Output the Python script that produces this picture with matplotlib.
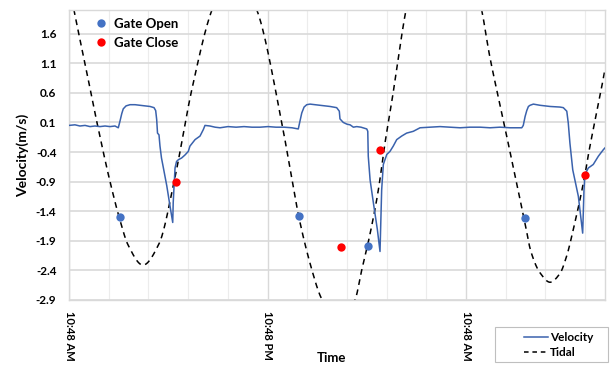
import numpy as np
import matplotlib
matplotlib.use("Agg")
import matplotlib.pyplot as plt
from matplotlib.lines import Line2D
from matplotlib.patches import Rectangle
from matplotlib.ticker import FixedLocator, MultipleLocator

plt.rcParams['font.family'] = ['Lato', 'DejaVu Sans']
plt.rcParams['font.weight'] = 'bold'

# ---- data (hours since 10:48 AM) ----
vel_time = [0.00, 0.36, 0.66, 0.97, 1.27, 1.57, 1.87, 2.18, 2.48, 2.78, 2.98, 3.08, 3.19, 3.28,
            3.45, 3.69, 3.99, 4.29, 4.59, 4.90, 5.14, 5.24, 5.30, 5.35, 5.44, 5.50, 5.59, 5.70,
            5.91, 6.11, 6.27, 6.30, 6.35, 6.41, 6.50, 6.61, 6.81, 7.01, 7.21, 7.31, 7.62, 7.92,
            8.12, 8.22, 8.52, 8.83, 9.13, 9.61, 10.10, 10.58, 11.06, 11.55, 12.03, 12.51, 13.00,
            13.48, 13.86, 13.96, 14.07, 14.21, 14.37, 14.57, 15.17, 15.78, 16.18, 16.34, 16.38,
            16.58, 16.81, 16.99, 17.19, 17.39, 17.65, 18.00, 18.06, 18.09, 18.20, 18.40, 18.64,
            18.80, 18.90, 19.00, 19.21, 19.40, 19.60, 19.81, 20.11, 20.41, 20.81, 21.22, 21.82,
            22.43, 23.03, 23.64, 24.24, 24.85, 25.45, 26.05, 26.66, 27.37, 27.46, 27.57, 27.67,
            27.77, 27.87, 28.07, 28.47, 29.08, 29.68, 29.88, 30.09, 30.18, 30.28, 30.45, 30.79,
            31.05, 31.13, 31.19, 31.39, 31.69, 32.00, 32.30, 32.40]
vel_value = [0.05, 0.06, 0.04, 0.05, 0.03, 0.04, 0.03, 0.04, 0.03, 0.04, 0.01, 0.12, 0.25, 0.33,
             0.38, 0.40, 0.40, 0.39, 0.38, 0.37, 0.35, 0.30, 0.15, -0.08, -0.11, -0.30, -0.50, -0.66,
             -0.97, -1.32, -1.59, -1.25, -0.98, -0.67, -0.56, -0.53, -0.50, -0.45, -0.39, -0.30, -0.19, -0.13,
             -0.02, 0.05, 0.04, 0.02, 0.01, 0.03, 0.02, 0.03, 0.02, 0.02, 0.03, 0.02, 0.02,
             0.01, -0.01, 0.12, 0.26, 0.36, 0.40, 0.41, 0.39, 0.37, 0.35, 0.29, 0.16,
             0.10, 0.07, 0.06, 0.02, 0.03, 0.02, -0.01, -0.05, -0.47, -0.87, -1.26, -1.71,
             -2.08, -1.04, -0.61, -0.44, -0.39, -0.30, -0.19, -0.13, -0.08, -0.05, 0.01, 0.02,
             0.03, 0.02, 0.01, 0.02, 0.02, 0.01, 0.02, 0.01, 0.01, 0.05, 0.20, 0.30,
             0.37, 0.39, 0.41, 0.39, 0.37, 0.36, 0.35, 0.29, 0.09, -0.25, -0.70, -1.15,
             -1.77, -1.04, -0.78, -0.67, -0.61, -0.47, -0.36, -0.33]

tide_time = [0.0, 0.30, 1.0, 1.69, 2.48, 3.08, 3.57, 4.47, 5.44, 6.41, 7.42, 8.64, 10.0, 11.36,
             12.86, 13.36, 13.88, 14.67, 15.22, 16.26, 17.29, 17.69, 18.20, 18.70, 19.10, 19.51,
             20.37, 21.5, 22.67, 23.8, 24.95, 25.41, 26.05, 26.36, 26.66, 27.57, 27.91, 28.47,
             29.08, 29.68, 30.09, 30.49, 31.19, 31.39, 32.10, 32.40]
tide_level = [2.45, 2.0, 1.05, 0.1, -0.9, -1.55, -1.97, -2.31, -1.95, -0.82, 0.65, 2.0, 2.75, 2.0,
              0.1, -0.68, -1.48, -2.38, -2.85, -3.3, -2.9, -2.4, -1.78, -1.04, -0.25, 0.45,
              2.0, 3.4, 3.9, 3.4, 2.0, 1.25, 0.40, 0.0, -0.40, -1.61, -2.07, -2.44,
              -2.6, -2.45, -2.15, -1.7, -0.78, -0.45, 0.55, 1.0]

open_time = [3.08, 13.88, 18.07, 27.57]
open_value = [-1.50, -1.48, -1.99, -1.51]
close_time = [6.45, 16.42, 18.80, 31.19]
close_value = [-0.91, -2.01, -0.37, -0.78]

ytick_values = [-2.9, -2.4, -1.9, -1.4, -0.9, -0.4, 0.1, 0.6, 1.1, 1.6]
ytick_labels = ['-2.9', '-2.4', '-1.9', '-1.4', '-0.9', '-0.4', '0.1', '0.6', '1.1', '1.6']
xtick_values = [0, 12, 24]
xtick_labels = ['10:48 AM', '10:48 PM', '10:48 AM']


def smooth(x, y, n=2000):
    x = np.asarray(x, float); y = np.asarray(y, float)
    h = np.diff(x); d = np.diff(y) / h
    m = np.zeros_like(y)
    for k in range(1, len(x) - 1):
        if d[k - 1] * d[k] > 0:
            w1 = 2 * h[k] + h[k - 1]; w2 = h[k] + 2 * h[k - 1]
            m[k] = (w1 + w2) / (w1 / d[k - 1] + w2 / d[k])
    m[0] = d[0]; m[-1] = d[-1]
    xn = np.linspace(x[0], x[-1], n)
    idx = np.clip(np.searchsorted(x, xn) - 1, 0, len(x) - 2)
    t = (xn - x[idx]) / h[idx]
    h00 = 2 * t**3 - 3 * t**2 + 1; h10 = t**3 - 2 * t**2 + t
    h01 = -2 * t**3 + 3 * t**2; h11 = t**3 - t**2
    yn = h00 * y[idx] + h10 * h[idx] * m[idx] + h01 * y[idx + 1] + h11 * h[idx] * m[idx + 1]
    return xn, yn


W, H = 610, 366
fig = plt.figure(figsize=(W / 100, H / 100), dpi=100)
ax = fig.add_axes([69 / W, 1 - 300 / H, (605 - 69) / W, 290 / H])

tx, ty = smooth(tide_time, tide_level)
ax.plot(vel_time, vel_value, color='#3A62AD', lw=1.1, zorder=3, label='Velocity')
ax.plot(tx, ty, color='black', lw=1.1, ls=(0, (3.8, 3)), zorder=2, label='Tidal')
ax.plot(open_time, open_value, 'o', color='#4472C4', ms=6, zorder=4, mec='none')
ax.plot(close_time, close_value, 'o', color='#FF0000', ms=6, zorder=4, mec='none')

ax.set_xlim(0, 32.4)
ax.set_ylim(-2.9, 2.0)
ax.yaxis.set_major_locator(FixedLocator(ytick_values))
ax.set_yticklabels(ytick_labels)
ax.xaxis.set_major_locator(FixedLocator(xtick_values))
ax.set_xticklabels(xtick_labels, rotation=270)
ax.xaxis.set_minor_locator(MultipleLocator(2.4))
ax.tick_params(axis='both', which='both', length=0)
ax.tick_params(axis='y', pad=9, labelsize=8.5)
ax.tick_params(axis='x', pad=8, labelsize=8)
for lab in ax.get_xticklabels() + ax.get_yticklabels():
    lab.set_fontweight('bold')
ax.grid(True, which='major', axis='y', color='#d9d9d9', lw=1.2)
ax.grid(True, which='major', axis='x', color='#d9d9d9', lw=1.0)
ax.grid(True, which='minor', axis='x', color='#ececec', lw=0.8)
ax.set_axisbelow(True)
for s in ax.spines.values():
    s.set_color('#d9d9d9'); s.set_linewidth(1.0)

ax.set_ylabel('Velocity(m/s)', fontsize=10, fontweight='bold', labelpad=5)
fig.text(331 / W, 1 - 358 / H, 'Time', fontsize=9.5, fontweight='bold', ha='center', va='center')

h1 = Line2D([], [], marker='o', ls='none', color='#4472C4', mec='none', ms=6)
h2 = Line2D([], [], marker='o', ls='none', color='#FF0000', mec='none', ms=6)
ax.legend([h1, h2], ['Gate Open', 'Gate Close'], loc='upper left', bbox_to_anchor=(0.012, 1.015),
          frameon=False, prop={'size': 9.5, 'weight': 'bold'}, handletextpad=0.05, labelspacing=0.55)

fig.patches.append(Rectangle((495 / W, 1 - 362 / H), 113 / W, 35 / H, transform=fig.transFigure,
                             fill=False, edgecolor='#bfbfbf', lw=0.8))
l1 = Line2D([], [], color='#3A62AD', lw=1.1)
l2 = Line2D([], [], color='black', lw=1.1, ls=(0, (3, 2.5)))
fig.legend([l1, l2], ['Velocity', 'Tidal'], loc='center left', bbox_to_anchor=(518 / W, 1 - 345 / H),
           frameon=False, prop={'size': 8.5, 'weight': 'bold'}, handlelength=2.0, handletextpad=0.2,
           labelspacing=0.3, borderpad=0)

fig.savefig('out.png', dpi=100)
